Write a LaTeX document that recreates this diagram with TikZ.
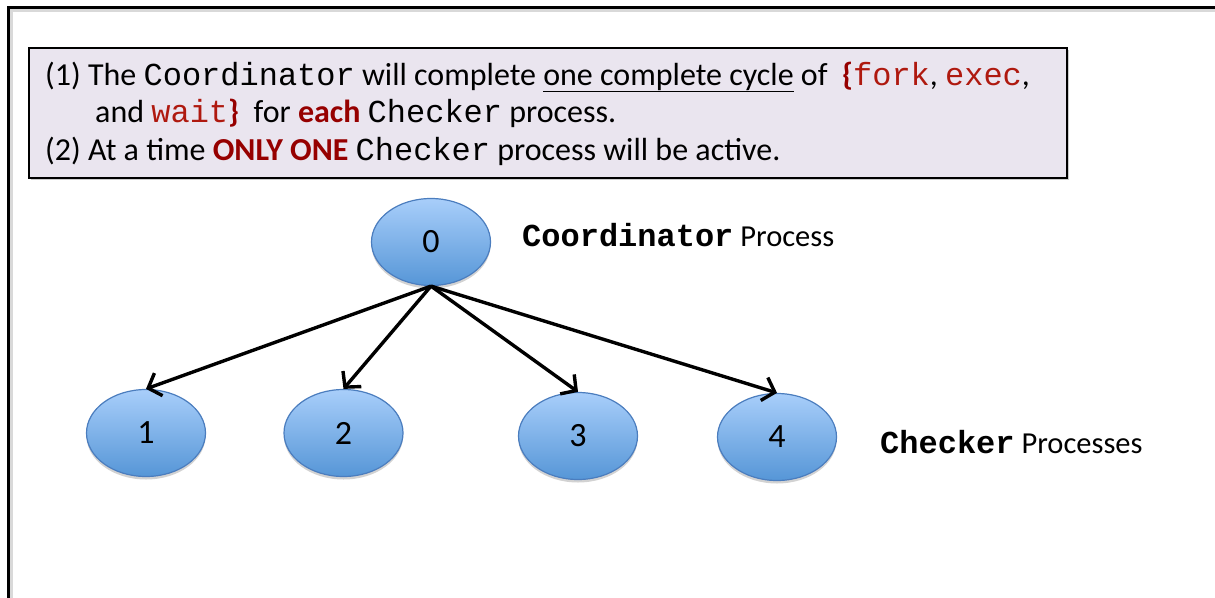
\documentclass[tikz,border=0pt]{standalone}
\usepackage{fontspec}
\setmainfont{Carlito}
\setmonofont{Liberation Mono}
\usetikzlibrary{arrows.meta,shadows,shapes.geometric}
\definecolor{boxfill}{RGB}{234,229,239}
\definecolor{codered}{RGB}{175,25,15}
\definecolor{darkred}{RGB}{150,0,0}
\definecolor{ntop}{RGB}{168,206,250}
\definecolor{nbot}{RGB}{86,150,215}
\definecolor{nborder}{RGB}{75,125,190}
\newcommand\cod[1]{{\fontsize{32}{36}\selectfont\ttfamily #1}}
\begin{document}
\begin{tikzpicture}[x=1pt,y=-1pt,
  proc/.style={ellipse, minimum width=119pt, minimum height=87pt, inner sep=0pt,
    top color=ntop, bottom color=nbot, draw=nborder, line width=1.2pt,
    font=\fontsize{34}{38}\selectfont,
    drop shadow={shadow xshift=0pt, shadow yshift=-3pt, fill=black!35, opacity=0.5}},
  link/.style={line width=3.4pt, -{Straight Barb[length=11pt,width=24pt,line width=3.4pt]}},
  txt/.style={anchor=base west, inner sep=0pt, font=\fontsize{32}{38}\selectfont},
  lab/.style={anchor=base west, inner sep=0pt, font=\fontsize{30.5}{36}\selectfont}]
\useasboundingbox (0,0) rectangle (1215,597);
% outer frame
\draw[line width=4pt, black!15] (1216,10) -- (11,10) -- (11,598);
\draw[line width=3pt] (1216,7) -- (8,7) -- (8,598);
% text box
\node[draw, line width=1.8pt, fill=boxfill, minimum width=1038pt, minimum height=130pt,
  anchor=north west, inner sep=0pt,
  drop shadow={shadow xshift=2pt, shadow yshift=-2pt, fill=black!40, opacity=0.5}] (box) at (28,47) {};
\node[txt] (l1) at (45,85) {(1) The \cod{Coordinator} will complete \underline{one complete cycle} of \ \textcolor{darkred}{\textbf{\{}}\cod{\textcolor{codered}{fork}}, \cod{\textcolor{codered}{exec}},};
\node[txt] (l2) at (95,122) {and \cod{\textcolor{codered}{wait}}\textcolor{darkred}{\textbf{\}}}\ \ for \textcolor{darkred}{\textbf{each}} \cod{Checker} process.};
\node[txt] (l3) at (45,160) {(2) At a time \textcolor{darkred}{\textbf{ONLY ONE}} \cod{Checker} process will be active.};
% nodes
\node[proc] (n0) at (431,242) {0};
\node[proc] (n1) at (146,433) {1};
\node[proc] (n2) at (343.5,433) {2};
\node[proc] (n3) at (578,436) {3};
\node[proc] (n4) at (777,437) {4};
% arrows
\draw[link] (n0.south) -- (n1.north);
\draw[link] (n0.south) -- (n2.north);
\draw[link] (n0.south) -- (n3.north);
\draw[link] (n0.south) -- (n4.north);
% labels
\node[lab] (lc) at (522,246) {\cod{\textbf{Coordinator}} Process};
\node[lab] (lk) at (880,453) {\cod{\textbf{Checker}} Processes};
\end{tikzpicture}
\end{document}
